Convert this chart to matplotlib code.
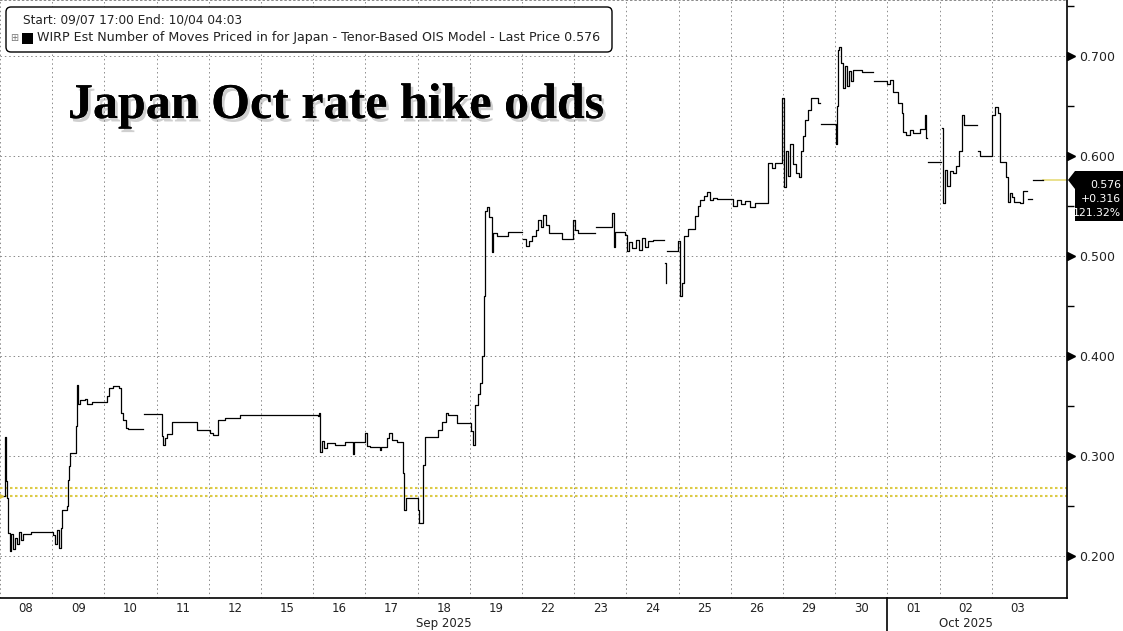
import numpy as np
import matplotlib
matplotlib.use("Agg")
import matplotlib.pyplot as plt
from matplotlib import patheffects, transforms
from matplotlib.patches import FancyBboxPatch, Polygon, Rectangle

# trading days on the axis (weekends removed)
day_labels = ["08", "09", "10", "11", "12", "15", "16", "17", "18", "19",
              "22", "23", "24", "25", "26", "29", "30", "01", "02", "03"]
month_labels = ["Sep 2025", "Oct 2025"]
month_first_day = [0, 17]

# time in trading days since the 08 Sep session, nan = no ticks
t_days = [0.06, 0.10, 0.11, 0.13, 0.15, 0.19, 0.21, 0.25, 0.29, 0.33, 0.36, 0.40, 0.44, 0.59,
          1.02, 1.05, 1.09, 1.13, 1.17, 1.19, 1.28, 1.30, 1.32, 1.34, 1.46, 1.48, 1.49, 1.53,
          1.63, 1.67, 1.76, 2.05, 2.09, 2.16, 2.28, 2.32, 2.36, 2.41, 2.45, 2.74, 2.76,
          3.10, 3.12, 3.16, 3.20, 3.30, 3.77, 4.02, 4.08, 4.18, 4.31, 4.60,
          6.09, 6.11, 6.13, 6.17, 6.21, 6.26, 6.42, 6.61, 6.76, 6.78, 6.99,
          7.03, 7.09, 7.28, 7.30, 7.41, 7.45, 7.51, 7.61, 7.72, 7.74, 7.78,
          8.01, 8.03, 8.10, 8.14, 8.39, 8.47, 8.54, 8.58, 8.75,
          9.02, 9.06, 9.10, 9.16, 9.20, 9.23, 9.27, 9.29, 9.33, 9.37, 9.43, 9.44, 9.52, 9.73,
          10.00, 10.02, 10.08, 10.13, 10.19, 10.27, 10.31, 10.36, 10.40, 10.46, 10.52, 10.77, 10.98,
          11.02, 11.07, 11.40, 11.42, 11.72, 11.76, 11.78, 11.97,
          12.01, 12.05, 12.11, 12.18, 12.24, 12.30, 12.36, 12.41, 12.51, 12.72, 12.74, 12.75,
          12.76, 12.77, 12.99,
          13.03, 13.07, 13.10, 13.18, 13.31, 13.37, 13.41, 13.49, 13.54, 13.60, 13.66, 13.74,
          14.04, 14.12, 14.20, 14.27, 14.37, 14.46, 14.71, 14.79, 14.85, 14.98,
          15.02, 15.06, 15.10, 15.13, 15.19, 15.25, 15.31, 15.34, 15.38, 15.42, 15.48, 15.54,
          15.67, 15.71, 15.73,
          16.02, 16.03, 16.05, 16.07, 16.11, 16.15, 16.19, 16.23, 16.26, 16.30, 16.34, 16.51,
          16.72, 16.74, 16.99,
          17.05, 17.11, 17.20, 17.28, 17.30, 17.36, 17.43, 17.49, 17.62, 17.72, 17.74, 17.76, 17.78,
          18.03, 18.05, 18.07, 18.10, 18.14, 18.20, 18.26, 18.31, 18.37, 18.43, 18.47, 18.72,
          18.74, 18.77,
          19.00, 19.06, 19.12, 19.16, 19.27, 19.31, 19.35, 19.39, 19.43, 19.54, 19.60, 19.67,
          19.69, 19.77, 19.79, 19.98]

nan = np.nan
wirp = [0.260, 0.319, 0.275, 0.258, 0.223, 0.205, 0.222, 0.207, 0.218, 0.212, 0.224, 0.216, 0.222, 0.224,
        0.221, 0.212, 0.226, 0.208, 0.228, 0.246, 0.250, 0.276, 0.290, 0.303, 0.330, 0.371, 0.352, 0.356,
        0.357, 0.352, 0.354, 0.360, 0.368, 0.370, 0.368, 0.343, 0.336, 0.328, 0.327, nan, 0.342,
        0.320, 0.311, 0.318, 0.322, 0.334, 0.326, 0.323, 0.321, 0.336, 0.338, 0.341,
        0.340, 0.343, 0.304, 0.315, 0.308, 0.313, 0.311, 0.314, 0.302, 0.314, 0.323,
        0.310, 0.309, 0.306, 0.309, 0.318, 0.323, 0.316, 0.314, 0.283, 0.246, 0.258,
        0.246, 0.233, 0.291, 0.319, 0.326, 0.334, 0.343, 0.341, 0.333,
        0.325, 0.311, 0.351, 0.362, 0.373, 0.400, 0.460, 0.545, 0.549, 0.539, 0.504, 0.523, 0.520, 0.524,
        nan, 0.517, 0.510, 0.515, 0.520, 0.526, 0.536, 0.529, 0.541, 0.531, 0.523, 0.517, 0.536,
        0.526, 0.523, nan, 0.529, 0.543, 0.509, 0.524, 0.521,
        0.505, 0.514, 0.508, 0.516, 0.506, 0.518, 0.509, 0.515, 0.516, nan, 0.493, 0.473,
        nan, 0.505, 0.515,
        0.460, 0.473, 0.520, 0.527, 0.540, 0.550, 0.556, 0.560, 0.564, 0.556, 0.558, 0.557,
        0.550, 0.556, 0.552, 0.555, 0.549, 0.553, 0.593, 0.588, 0.593, 0.658,
        0.569, 0.605, 0.580, 0.612, 0.592, 0.583, 0.579, 0.605, 0.620, 0.636, 0.646, 0.658,
        0.653, nan, 0.632,
        0.612, 0.650, 0.706, 0.709, 0.693, 0.668, 0.690, 0.670, 0.685, 0.675, 0.686, 0.684,
        nan, 0.675, 0.672,
        0.676, 0.664, 0.653, 0.643, 0.624, 0.621, 0.626, 0.623, 0.627, 0.641, 0.618, nan, 0.594,
        nan, 0.628, 0.553, 0.586, 0.570, 0.585, 0.583, 0.590, 0.605, 0.641, 0.631, nan,
        0.605, 0.600,
        0.641, 0.649, 0.643, 0.594, 0.579, 0.554, 0.563, 0.559, 0.554, 0.553, 0.565, nan,
        0.557, nan, 0.576, 0.576]

last_price = 0.576
net_change = 0.316
pct_change = 121.32
start_levels = [0.260, 0.268]
x_end = 20.44

W, H = 1123, 631
fig = plt.figure(figsize=(W / 100, H / 100), dpi=100)
fig.patch.set_facecolor("white")
ax = fig.add_axes([0, 33 / H, 1067 / W, 598 / H])

ax.plot(t_days, wirp, drawstyle="steps-post", color="black", lw=0.9, zorder=3)
ax.plot([t_days[-1], x_end], [last_price, last_price], color="#e6dc7a", lw=1.2, zorder=2)
for lev in start_levels:
    ax.axhline(lev, color="#dccb45", lw=1.5, ls=(0, (1.2, 1.2)), zorder=2)
ax.plot([0], [start_levels[0]], marker=">", ms=5, color="#d8c33a", clip_on=False, zorder=4)

ax.set_xlim(0, x_end)
ax.set_ylim(0.158, 0.756)

gridc = "#8a8a8a"
# x axis: labels centred in each day, dotted lines on day boundaries
ax.set_xticks(np.arange(len(day_labels)) + 0.5)
ax.set_xticklabels(day_labels, fontsize=8.5, color="#222222")
ax.set_xticks(np.arange(len(day_labels)), minor=True)
ax.tick_params(axis="x", which="both", length=0, pad=3)
ax.grid(True, axis="x", which="minor", color=gridc, ls=(0, (1.5, 3)), lw=0.7)

# y axis on the right
yt = np.arange(0.2, 0.71, 0.1)
ax.yaxis.tick_right()
ax.set_yticks(yt)
ax.set_yticklabels(["%.3f" % v for v in yt], fontsize=9, color="#222222")
ax.set_yticks(np.arange(0.25, 0.76, 0.1), minor=True)
ax.tick_params(axis="y", which="major", length=0, pad=9)
ax.tick_params(axis="y", which="minor", length=5, width=1, color="black", direction="out")
ax.grid(True, axis="y", which="major", color=gridc, ls=(0, (1.5, 3)), lw=0.7)

bl = transforms.blended_transform_factory(ax.transAxes, ax.transData)
ax.plot([1 + 4 / 1067] * len(yt), yt, ls="none", marker=">", ms=5.5, color="black",
        transform=bl, clip_on=False)

ax.spines["left"].set_visible(False)
ax.spines["top"].set_linestyle((0, (1.5, 3)))
ax.spines["top"].set_color(gridc)
ax.spines["top"].set_linewidth(0.7)
ax.spines["bottom"].set_linewidth(1.2)
ax.spines["right"].set_linewidth(1.2)

# month labels and separator
bx = transforms.blended_transform_factory(ax.transData, ax.transAxes)
month_end = month_first_day[1:] + [20]
for lab, a, b in zip(month_labels, month_first_day, month_end):
    ax.text((a + b) / 2, -0.042, lab, transform=bx, ha="center", va="center",
            fontsize=8.5, color="#222222")
ax.plot([month_first_day[1]] * 2, [0, -0.06], transform=bx, color="black", lw=1.2, clip_on=False)

# last price tag
x0 = 1 + 1 / 1067
x1 = 1 + 8 / 1067
x2 = W / 1067
tag = Polygon([(x0, last_price), (x1, 0.585), (x2, 0.585), (x2, 0.535), (x1, 0.535), (x1, 0.567)],
              closed=True, transform=bl, facecolor="black", edgecolor="none", clip_on=False)
ax.add_patch(tag)
tag_lines = ["%.3f" % last_price, "+%.3f" % net_change, "%.2f%%" % pct_change]
for i, s in enumerate(tag_lines):
    ax.text(x2 - 2 / 1067, 0.5715 - i * 0.0145, s, transform=bl, ha="right", va="center",
            fontsize=7.8, color="white", clip_on=False)

# overlay in pixel units for legend box and headline
ov = fig.add_axes([0, 0, 1, 1])
ov.set_xlim(0, W)
ov.set_ylim(H, 0)
ov.axis("off")
ov.patch.set_alpha(0)

box = FancyBboxPatch((6, 7), 606, 45, boxstyle="round,pad=0,rounding_size=5",
                     facecolor="white", edgecolor="black", lw=1)
ov.add_patch(box)
ov.text(23, 20, "Start: 09/07 17:00 End: 10/04 04:03", fontsize=8.7, va="center", color="#222222")
ov.text(14, 38, "\u229e", fontsize=7, va="center", ha="center", color="#777777")
ov.add_patch(Rectangle((22, 33), 11, 11, facecolor="black"))
ov.text(37, 38, "WIRP Est Number of Moves Priced in for Japan - Tenor-Based OIS Model - Last Price %.3f" % last_price,
        fontsize=9.1, va="center", color="#222222")

ov.text(68, 106, "Japan Oct rate hike odds", fontsize=36, family="Liberation Serif",
        weight="bold", va="center", color="black",
        path_effects=[patheffects.withSimplePatchShadow(offset=(2, -2.5), shadow_rgbFace="#777777", alpha=0.35),
                      patheffects.Normal()])

fig.savefig("out.png", dpi=100)
